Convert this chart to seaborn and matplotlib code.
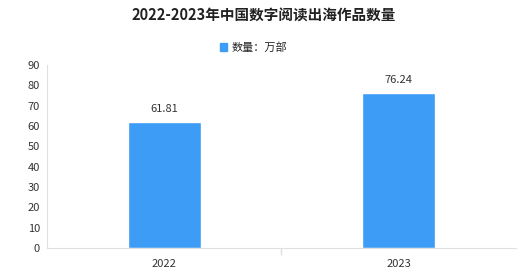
import matplotlib
matplotlib.use("Agg")
import matplotlib.pyplot as plt
import seaborn as sns
import pandas as pd
from matplotlib.patches import Patch

years = ["2022", "2023"]
values = [61.81, 76.24]
series_name = "数量：万部"
title = "2022-2023年中国数字阅读出海作品数量"
yticks = [0, 10, 20, 30, 40, 50, 60, 70, 80, 90]

sns.set_style("white")
plt.rcParams['font.family'] = ['Noto Sans CJK SC', 'DejaVu Sans']

df = pd.DataFrame({"year": years, "value": values, "series": series_name})

fig = plt.figure(figsize=(5.28, 2.79), dpi=100)
ax = fig.add_axes([0.089, 0.111, 0.888, 0.656])
color = "#3d9cf5"
sns.barplot(data=df, x="year", y="value", hue="series", palette=[color],
            width=0.31, saturation=1, ax=ax, legend=False)

ax.set_ylim(0, 90)
ax.set_yticks(yticks)
ax.set_xlim(-0.5, 1.5)
ax.set_xlabel("")
ax.set_ylabel("")
for s in ["top", "right"]:
    ax.spines[s].set_visible(False)
ax.spines["left"].set_color("#e0e0e0")
ax.spines["bottom"].set_color("#e0e0e0")
ax.tick_params(axis="y", length=3, color="#e0e0e0", labelsize=8, labelcolor="#333333", pad=2)
ax.tick_params(axis="x", length=0, labelsize=8, labelcolor="#333333", pad=8)
ax.set_xticks([0, 1])
ax.set_xticklabels(years)
ax.vlines(0.5, -3.5, 0, color="#e0e0e0", lw=1, clip_on=False)

for i, v in enumerate(values):
    ax.text(i, v + 4, f"{v:.2f}", ha="center", va="bottom", fontsize=8, color="#333333")

fig.text(0.5, 0.945, title, ha="center", va="center", fontsize=10.5, fontweight="bold", color="#222222")
fig.legend(handles=[Patch(color=color)], labels=[series_name], loc="center",
           bbox_to_anchor=(0.48, 0.83), frameon=False, fontsize=8,
           handlelength=0.7, handleheight=0.7, handletextpad=0.4)

fig.savefig("out.png", dpi=100)
